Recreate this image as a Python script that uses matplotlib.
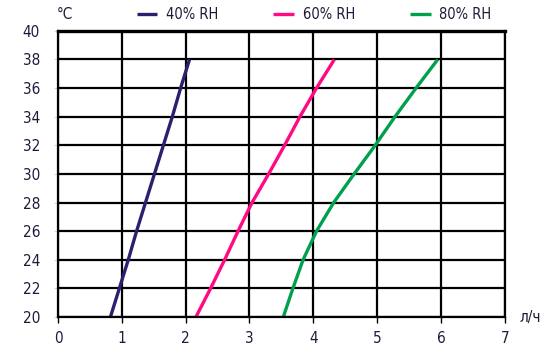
import matplotlib.pyplot as plt

temps = [20, 22, 24, 26, 28, 30, 32, 34, 36, 38]
rh40 = [0.82, 0.96, 1.10, 1.23, 1.37, 1.51, 1.65, 1.79, 1.92, 2.06]
rh60 = [2.16, 2.39, 2.61, 2.82, 3.04, 3.30, 3.55, 3.79, 4.05, 4.33]
rh80 = [3.53, 3.68, 3.84, 4.05, 4.32, 4.64, 4.97, 5.28, 5.61, 5.95]
labels = ["40% RH", "60% RH", "80% RH"]
colors = ["#2e1f6e", "#ff0a82", "#00a04e"]

plt.rcParams['font.family'] = ['DejaVu Sans', 'Liberation Sans']
plt.rcParams['font.stretch'] = 'condensed'
txt = '#1c1c3a'

fig = plt.figure(figsize=(5.48, 3.55), dpi=100)
ax = fig.add_axes([0.106, 0.107, 0.815, 0.806])

for xs, lab, c in zip([rh40, rh60, rh80], labels, colors):
    ax.plot(xs, temps, color=c, linewidth=2.4, label=lab, solid_capstyle='butt')

ax.set_xlim(0, 7)
ax.set_ylim(20, 40)
ax.set_xticks(range(0, 8))
ax.set_yticks(range(20, 41, 2))
ax.grid(True, color='black', linewidth=1.6)
ax.set_axisbelow(True)
for s in ax.spines.values():
    s.set_color('black')
    s.set_linewidth(1.6)
ax.spines['top'].set_linewidth(2.4)
ax.tick_params(axis='x', length=4, width=1, colors='black', labelcolor=txt, labelsize=11, pad=6)
ax.tick_params(axis='y', length=3, width=0.6, colors='#cccccc', labelcolor=txt, labelsize=11, pad=10)

fig.text(0.104, 0.958, "°C", fontsize=11, color=txt, va='center', ha='left')
fig.text(0.948, 0.107, "л/ч", fontsize=11, color=txt, va='center', ha='left')

ax.legend(loc='center', bbox_to_anchor=(0.573, 1.056), ncol=3, frameon=False,
          fontsize=10.5, handlelength=1.4, handletextpad=0.6, columnspacing=3.8,
          labelcolor=txt, borderpad=0, borderaxespad=0)

plt.savefig("out.png", dpi=100)
